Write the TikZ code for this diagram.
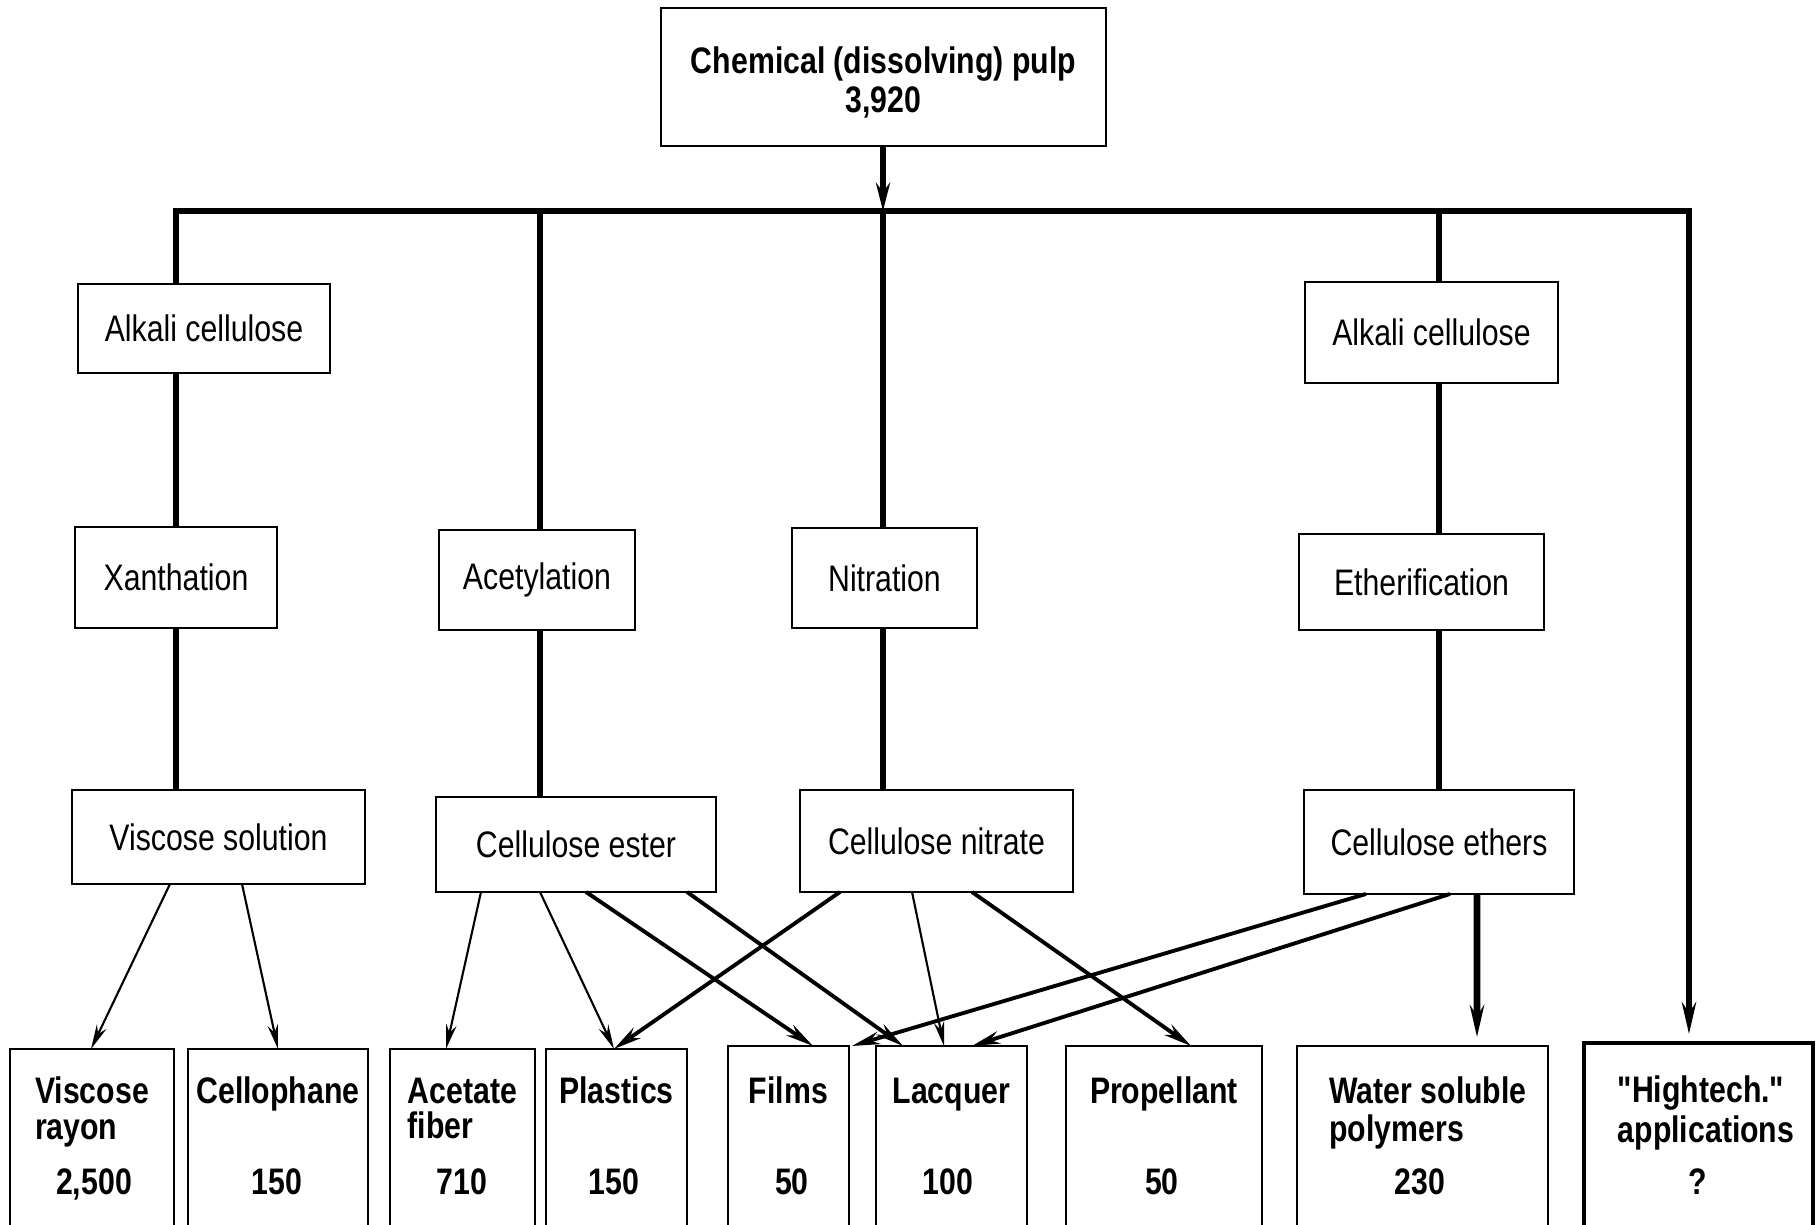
\documentclass[tikz,border=0pt]{standalone}
\usepackage{fontspec}
\setmainfont{Liberation Sans}[FakeStretch=0.82, Ligatures=TeXOff]
\usetikzlibrary{arrows.meta}

\begin{document}
\begin{tikzpicture}[
  box/.style={draw, line width=0.8pt, inner sep=0pt, outer sep=0pt, align=center,
              font=\fontsize{10.5pt}{11pt}\selectfont},
  prod/.style={box, anchor=north},
  lbl/.style={font=\fontsize{10.5pt}{10.2pt}\selectfont\bfseries, inner sep=0pt, anchor=base},
  feed/.style={line width=1.6pt},
  thinarr/.style={-{Stealth[length=7pt, width=3pt]}, line width=0.6pt},
  medarr/.style={-{Stealth[length=8pt, width=3.6pt]}, line width=1.1pt},
  heavyarr/.style={-{Stealth[length=9pt, width=4pt]}, line width=1.9pt, shorten >=2.5pt},
]
\useasboundingbox (0,0) rectangle (18.2,12.25);
\clip (0,0) rectangle (18.2,12.25);

% Pulp at the top
\node[box, minimum width=4.45cm, minimum height=1.38cm] (pulp) at (8.835, 11.48) {};
\node[lbl, font=\fontsize{10.5pt}{11.1pt}\selectfont\bfseries] (pulpT) at (8.835, 11.51)
  {\begin{tabular}[t]{@{}c@{}}Chemical (dissolving) pulp\\3,920\end{tabular}};

% Bus points
\coordinate (b1) at (1.76, 10.14);
\coordinate (b2) at (5.40, 10.14);
\coordinate (b3) at (8.83, 10.14);
\coordinate (b4) at (14.39, 10.14);
\coordinate (b5) at (16.89, 10.14);

% First row
\node[box, minimum width=2.52cm, minimum height=0.89cm] (alkA) at (2.04, 8.965) {Alkali cellulose};
\node[box, minimum width=2.53cm, minimum height=1.01cm] (alkB) at (14.315, 8.925) {Alkali cellulose};

% Second row (treatments)
\node[box, minimum width=2.02cm, minimum height=1.01cm] (xan) at (1.76, 6.475) {Xanthation};
\node[box, minimum width=1.96cm, minimum height=1.00cm] (acet) at (5.37, 6.45) {Acetylation};
\node[box, minimum width=1.85cm, minimum height=1.00cm] (nitr) at (8.845, 6.47) {Nitration};
\node[box, minimum width=2.45cm, minimum height=0.96cm] (ether) at (14.215, 6.43) {Etherification};

% Third row (intermediates)
\node[box, minimum width=2.93cm, minimum height=0.94cm] (visc) at (2.185, 3.88) {Viscose solution};
\node[box, minimum width=2.80cm, minimum height=0.95cm] (ester) at (5.76, 3.805) {Cellulose ester};
\node[box, minimum width=2.73cm, minimum height=1.02cm] (nitrC) at (9.365, 3.84) {Cellulose nitrate};
\node[box, minimum width=2.70cm, minimum height=1.04cm] (ethers) at (14.39, 3.83) {Cellulose ethers};

% Products (cut off at the bottom)
\node[prod, minimum width=1.64cm, minimum height=1.91cm] (vr) at (0.92, 1.76) {};
\node[prod, minimum width=1.80cm, minimum height=1.91cm] (cello) at (2.78, 1.76) {};
\node[prod, minimum width=1.45cm, minimum height=1.91cm] (af) at (4.625, 1.76) {};
\node[prod, minimum width=1.41cm, minimum height=1.91cm] (plast) at (6.165, 1.76) {};
\node[prod, minimum width=1.21cm, minimum height=1.94cm] (films) at (7.885, 1.79) {};
\node[prod, minimum width=1.51cm, minimum height=1.94cm] (lacq) at (9.515, 1.79) {};
\node[prod, minimum width=1.96cm, minimum height=1.94cm] (prop) at (11.64, 1.79) {};
\node[prod, minimum width=2.51cm, minimum height=1.94cm] (wsp) at (14.225, 1.79) {};
\node[prod, line width=1.3pt, minimum width=2.29cm, minimum height=1.97cm] (ht) at (16.985, 1.82) {};

% Product names and amounts
\node[lbl] (vrT) at (0.92, 1.21) {\begin{tabular}[t]{@{}l@{}}Viscose\\rayon\end{tabular}};
\node[lbl] (vrN) at (0.94, 0.30) {2,500};
\node[lbl] (celloT) at (2.78, 1.21) {Cellophane};
\node[lbl] (celloN) at (2.77, 0.30) {150};
\node[lbl] (afT) at (4.625, 1.21) {\begin{tabular}[t]{@{}l@{}}Acetate\\[-0.8pt]fiber\end{tabular}};
\node[lbl] (afN) at (4.62, 0.30) {710};
\node[lbl] (plastT) at (6.165, 1.21) {Plastics};
\node[lbl] (plastN) at (6.14, 0.30) {150};
\node[lbl] (filmsT) at (7.885, 1.21) {Films};
\node[lbl] (filmsN) at (7.92, 0.30) {50};
\node[lbl] (lacqT) at (9.515, 1.21) {Lacquer};
\node[lbl] (lacqN) at (9.48, 0.30) {100};
\node[lbl] (propT) at (11.64, 1.21) {Propellant};
\node[lbl] (propN) at (11.62, 0.30) {50};
\node[lbl] (wspT) at (14.28, 1.21) {\begin{tabular}[t]{@{}l@{}}Water soluble\\polymers\end{tabular}};
\node[lbl] (wspN) at (14.20, 0.30) {230};
\node[lbl] (htT) at (17.06, 1.22) {\begin{tabular}[t]{@{}l@{}}"Hightech."\\[0.5pt]applications\end{tabular}};
\node[lbl] (htN) at (16.98, 0.30) {?};

% Feed lines from the pulp
\draw[feed, -{Stealth[length=8pt, width=4pt]}] (pulp.south -| b3) -- (b3);
\draw[heavyarr] (alkA.north -| b1) -- (b1) -- (b5) -- (ht.north -| b5);
\draw[feed] (b2) -- (b2 |- acet.north);
\draw[feed] (b3) -- (b3 |- nitr.north);
\draw[feed] (b4) -- (b4 |- alkB.north);

% Process chains
\draw[feed] (alkA.south -| b1) -- (b1 |- xan.north);
\draw[feed] (xan.south -| b1) -- (b1 |- visc.north);
\draw[feed] (acet.south -| b2) -- (b2 |- ester.north);
\draw[feed] (nitr.south -| b3) -- (b3 |- nitrC.north);
\draw[feed] (alkB.south -| b4) -- (b4 |- ether.north);
\draw[feed] (ether.south -| b4) -- (b4 |- ethers.north);

% Intermediates to products
\draw[thinarr] ([xshift=-0.485cm]visc.south) -- ([xshift=-0.01cm]vr.north);
\draw[thinarr] ([xshift=0.235cm]visc.south) -- (cello.north);
\draw[thinarr] ([xshift=-0.95cm]ester.south) -- ([xshift=-0.165cm]af.north);
\draw[thinarr] ([xshift=-0.36cm]ester.south) -- ([xshift=-0.025cm]plast.north);
\draw[medarr] ([xshift=0.10cm]ester.south) -- ([xshift=0.245cm]films.north);
\draw[medarr] ([xshift=1.11cm]ester.south) -- ([xshift=-0.485cm]lacq.north);
\draw[medarr] ([xshift=-0.965cm]nitrC.south) -- ([xshift=-0.025cm]plast.north);
\draw[thinarr] ([xshift=-0.245cm]nitrC.south) -- ([xshift=-0.075cm]lacq.north);
\draw[medarr] ([xshift=0.355cm]nitrC.south) -- ([xshift=0.27cm]prop.north);
\draw[medarr] ([xshift=-0.73cm]ethers.south) -- ([xshift=0.03cm]films.north east);
\draw[medarr] ([xshift=0.11cm]ethers.south) -- ([xshift=0.205cm]lacq.north);
\draw[heavyarr] ([xshift=0.38cm]ethers.south) -- ([xshift=0.545cm]wsp.north);

\end{tikzpicture}
\end{document}
